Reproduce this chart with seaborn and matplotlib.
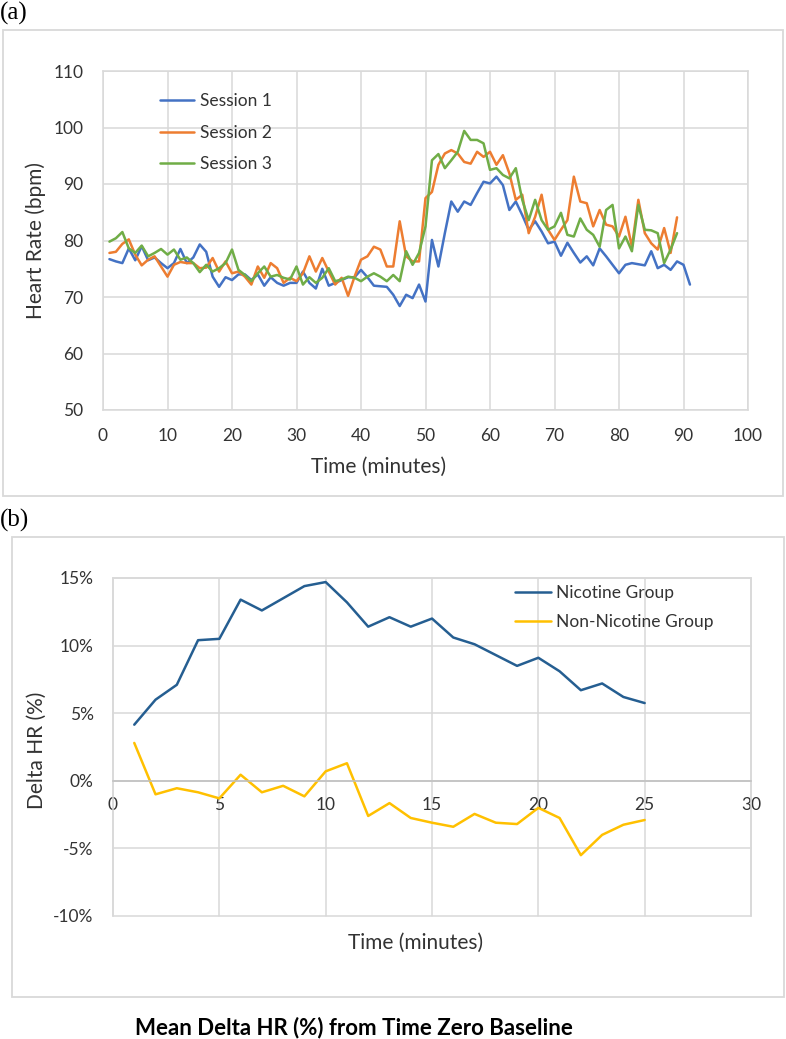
import matplotlib
matplotlib.use("Agg")
import matplotlib.pyplot as plt
import seaborn as sns
import pandas as pd
from matplotlib.patches import Rectangle
from matplotlib.ticker import FuncFormatter

# ---- data ----
session1 = [76.7, 76.3, 76.0, 78.6, 76.5, 79.0, 76.5, 77.0, 76.0, 75.1,
            76.0, 78.5, 76.0, 77.0, 79.3, 78.0, 73.6, 71.8, 73.5, 73.0,
            74.0, 74.0, 73.0, 74.0, 72.0, 73.5, 72.5, 72.0, 72.5, 72.5,
            74.5, 72.5, 71.5, 75.0, 72.0, 72.5, 73.0, 73.5, 73.5, 74.8,
            73.5, 72.0, 71.9, 71.8, 70.4, 68.4, 70.4, 69.8, 72.2, 69.2,
            80.1, 75.4, 81.3, 86.9, 85.1, 86.9, 86.3, 88.4, 90.4, 90.1,
            91.3, 89.8, 85.4, 86.9, 84.5, 81.9, 83.4, 81.6, 79.5, 79.8,
            77.3, 79.6, 77.8, 76.1, 77.2, 75.6, 78.6, 77.2, 75.7, 74.2,
            75.7, 76.0, 75.8, 75.6, 78.1, 75.1, 75.7, 74.8, 76.3, 75.7,
            72.2]
session2 = [77.8, 78.0, 79.4, 80.2, 77.5, 75.6, 76.6, 77.2, 75.4, 73.6,
            75.7, 76.2, 76.0, 76.0, 75.1, 75.2, 76.9, 74.5, 76.3, 74.2,
            74.5, 73.6, 72.2, 75.4, 73.4, 76.0, 75.1, 72.5, 73.4, 72.8,
            74.2, 77.2, 74.5, 76.9, 74.5, 72.2, 73.4, 70.2, 73.6, 76.6,
            77.2, 78.9, 78.4, 75.4, 75.4, 83.4, 77.2, 76.3, 76.3, 87.5,
            88.6, 93.4, 95.4, 96.0, 95.4, 93.9, 93.6, 95.7, 94.8, 95.7,
            93.4, 95.1, 91.9, 87.2, 88.1, 81.3, 84.2, 88.1, 81.9, 80.1,
            81.9, 83.6, 91.3, 86.9, 86.6, 82.5, 85.4, 82.8, 82.5, 80.7,
            84.2, 78.9, 87.2, 81.3, 79.5, 78.4, 82.2, 77.8, 84.1]
session3 = [79.8, 80.4, 81.5, 78.6, 77.8, 79.1, 77.2, 77.8, 78.5, 77.5,
            78.4, 76.6, 77.0, 76.0, 74.4, 75.7, 74.5, 75.1, 76.0, 78.4,
            74.8, 73.9, 72.8, 74.2, 75.4, 73.6, 73.9, 73.4, 73.1, 75.4,
            72.2, 73.5, 72.5, 73.4, 75.1, 72.8, 73.1, 73.6, 73.4, 72.8,
            73.6, 74.2, 73.6, 72.8, 73.9, 72.8, 78.1, 75.7, 77.8, 82.5,
            94.2, 95.3, 92.8, 94.2, 95.7, 99.4, 97.8, 97.8, 97.2, 92.5,
            92.8, 91.6, 91.0, 92.8, 87.2, 83.6, 87.2, 83.6, 81.9, 82.5,
            84.9, 81.0, 80.7, 83.9, 81.9, 81.0, 78.9, 85.4, 86.3, 78.6,
            80.7, 78.1, 86.3, 81.9, 81.8, 81.3, 76.0, 78.4, 81.3]
session_labels = ["Session 1", "Session 2", "Session 3"]

nicotine = [4.15, 6.0, 7.1, 10.4, 10.5, 13.4, 12.6, 13.5, 14.4, 14.7,
            13.2, 11.4, 12.1, 11.4, 12.0, 10.6, 10.1, 9.3, 8.5, 9.1,
            8.1, 6.7, 7.2, 6.2, 5.75]
non_nicotine = [2.8, -1.0, -0.55, -0.85, -1.3, 0.45, -0.85, -0.37, -1.15, 0.7,
                1.3, -2.6, -1.65, -2.75, -3.1, -3.4, -2.45, -3.1, -3.2, -2.0,
                -2.75, -5.5, -4.0, -3.25, -2.9]
group_labels = ["Nicotine Group", "Non-Nicotine Group"]

sns.set_theme(style="white")
plt.rcParams["font.family"] = ["Lato", "DejaVu Sans"]
plt.rcParams["axes.unicode_minus"] = False

GRID = "#D9D9D9"
TXT = "#333333"
FS = 12.5      # ticks and legend
FS_AX = 15     # axis titles

fig = plt.figure(figsize=(7.86, 10.39), dpi=100)
W, H = 786, 1039


def fig_rect(x0, y0, x1, y1):
    # pixel box (top-left origin) -> figure fractions
    return [x0 / W, 1 - y1 / H, (x1 - x0) / W, (y1 - y0) / H]


# outer chart-area borders
for box in [(3, 30, 783, 496), (12, 537, 784, 997)]:
    r = fig_rect(*box)
    fig.add_artist(Rectangle((r[0], r[1]), r[2], r[3], transform=fig.transFigure,
                             fill=False, edgecolor=GRID, linewidth=1.3))

# ---- (a) heart rate by session ----
ax1 = fig.add_axes(fig_rect(103, 71, 748, 410))
df1 = pd.concat([
    pd.DataFrame({"t": range(1, len(v) + 1), "hr": v, "s": lab})
    for v, lab in zip([session1, session2, session3], session_labels)
])
sns.lineplot(data=df1, x="t", y="hr", hue="s",
             palette=["#4472C4", "#ED7D31", "#70AD47"], linewidth=1.8, ax=ax1)
ax1.set_xlim(0, 100)
ax1.set_ylim(50, 110)
ax1.set_xticks(range(0, 101, 10))
ax1.set_yticks(range(50, 111, 10))
ax1.grid(True, color=GRID, linewidth=1.1)
for sp in ax1.spines.values():
    sp.set_color(GRID)
    sp.set_linewidth(1.1)
ax1.tick_params(axis="x", length=0, pad=13, labelsize=FS, labelcolor=TXT)
ax1.tick_params(axis="y", length=0, pad=14, labelsize=FS, labelcolor=TXT)
ax1.set_xlabel("Time (minutes)", fontsize=FS_AX, color=TXT)
ax1.set_ylabel("Heart Rate (bpm)", fontsize=FS_AX, color=TXT)
ax1.xaxis.set_label_coords(0.428, -0.168)
ax1.xaxis.label.set_va("center")
ax1.yaxis.set_label_coords(-0.105, 0.5)
ax1.yaxis.label.set_va("center")
ax1.legend(loc="upper left", bbox_to_anchor=(0.088, 0.935), frameon=False,
           fontsize=FS, handlelength=2.0, handletextpad=0.3, labelspacing=0.9,
           borderpad=0, borderaxespad=0, labelcolor=TXT)

# ---- (b) mean delta HR ----
ax2 = fig.add_axes(fig_rect(113, 578, 751, 916))
df2 = pd.concat([
    pd.DataFrame({"t": range(1, len(v) + 1), "d": v, "g": lab})
    for v, lab in zip([nicotine, non_nicotine], group_labels)
])
sns.lineplot(data=df2, x="t", y="d", hue="g",
             palette=["#255E91", "#FFC000"], linewidth=1.8, ax=ax2)
ax2.set_xlim(0, 30)
ax2.set_ylim(-10, 15)
ax2.set_xticks(range(0, 31, 5))
ax2.set_yticks(range(-10, 16, 5))
ax2.yaxis.set_major_formatter(FuncFormatter(lambda v, p: f"{int(v)}%"))
ax2.grid(True, color=GRID, linewidth=1.1)
for sp in ax2.spines.values():
    sp.set_color(GRID)
    sp.set_linewidth(1.1)
ax2.spines["bottom"].set_position(("data", 0))
ax2.spines["bottom"].set_color("#BFBFBF")
ax2.tick_params(axis="x", length=0, pad=12, labelsize=FS, labelcolor=TXT)
ax2.tick_params(axis="y", length=0, pad=14, labelsize=FS, labelcolor=TXT)
for gl in ax2.get_xgridlines() + ax2.get_ygridlines():
    gl.set_clip_on(False)
ax2.set_xlabel("Time (minutes)", fontsize=FS_AX, color=TXT)
ax2.set_ylabel("Delta HR (%)", fontsize=FS_AX, color=TXT)
ax2.xaxis.set_label_coords(0.475, -0.080)
ax2.xaxis.label.set_va("center")
ax2.yaxis.set_label_coords(-0.119, 0.49)
ax2.yaxis.label.set_va("center")
ax2.legend(loc="upper left", bbox_to_anchor=(0.630, 0.979), frameon=False,
           fontsize=FS, handlelength=2.1, handletextpad=0.25, labelspacing=0.72,
           borderpad=0, borderaxespad=0, labelcolor=TXT)

# panel letters and caption
fig.text(0.0, 1 - 13 / H, "(a)", family=["Liberation Serif", "DejaVu Serif"],
         fontsize=18, va="center", ha="left", color="black")
fig.text(0.0, 1 - 520 / H, "(b)", family=["Liberation Serif", "DejaVu Serif"],
         fontsize=18, va="center", ha="left", color="black")
fig.text(354 / W, 1 - 1028 / H, "Mean Delta HR (%) from Time Zero Baseline",
         fontsize=16, fontweight="bold", ha="center", va="center", color="black")

plt.savefig("out.png", dpi=100)
plt.close()
